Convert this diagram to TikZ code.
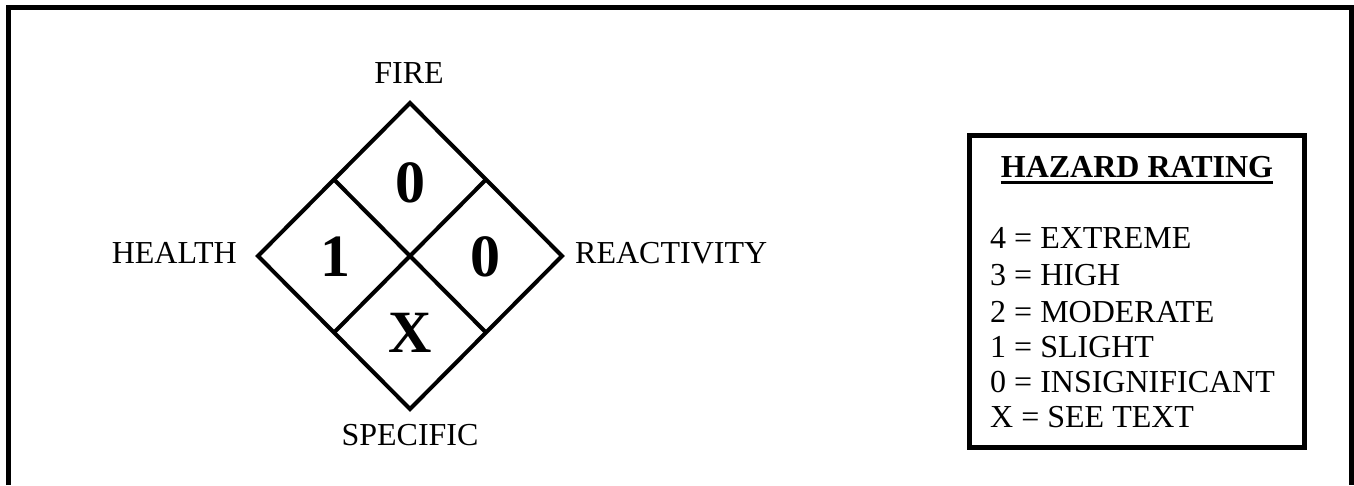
\documentclass[tikz,border=0pt]{standalone}
\usepackage{fontspec}
\setmainfont{Liberation Serif}
\usetikzlibrary{calc}
\begin{document}
\begin{tikzpicture}[x=1pt,y=-1pt,
  lbl/.style={inner sep=0pt,anchor=base,font=\fontsize{32}{36}\selectfont},
  num/.style={inner sep=0pt,font=\fontsize{60}{62}\selectfont\bfseries},
  leg/.style={inner sep=0pt,anchor=base west,font=\fontsize{32}{36}\selectfont},
  dline/.style={line width=4pt,line join=miter},
  frame/.style={line width=5pt,line join=miter}]
\useasboundingbox (0,0) rectangle (1354,485);
% outer frame
\draw[frame] (8.5,485) -- (8.5,7.5) -- (1351.5,7.5) -- (1351.5,485);
% diamond
\coordinate (T) at (410,103);
\coordinate (L) at (258,256);
\coordinate (R) at (562,256);
\coordinate (B) at (410,409);
\coordinate (C) at (410,256);
\draw[dline] (T) -- (R) -- (B) -- (L) -- cycle;
\draw[dline] ($(T)!0.5!(L)$) -- ($(B)!0.5!(R)$);
\draw[dline] ($(T)!0.5!(R)$) -- ($(B)!0.5!(L)$);
\node[num] (nf) at (410,183) {0};
\node[num] (nh) at (335,257) {1};
\node[num] (nr) at (485,257) {0};
\node[num] (ns) at (410,333) {X};
% labels
\node[lbl] (fire) at (409,83) {FIRE};
\node[lbl,anchor=base east] (health) at (237,263) {HEALTH};
\node[lbl,anchor=base west] (react) at (575,263) {REACTIVITY};
\node[lbl] (spec) at (410,445) {SPECIFIC};
% legend
\draw[frame] (969,135.5) rectangle (1304.5,447.5);
\node[lbl,font=\fontsize{32}{36}\selectfont\bfseries] (title) at (1137,177) {HAZARD RATING};
\draw[line width=3pt] ($(title.base west)+(0,5.5)$) -- ($(title.base east)+(0,5.5)$);
\node[leg] (l4) at (990,248) {4 = EXTREME};
\node[leg] (l3) at (990,285) {3 = HIGH};
\node[leg] (l2) at (990,322) {2 = MODERATE};
\node[leg] (l1) at (990,357) {1 = SLIGHT};
\node[leg] (l0) at (990,392) {0 = INSIGNIFICANT};
\node[leg] (lx) at (990,427) {X = SEE TEXT};
\end{tikzpicture}
\end{document}
